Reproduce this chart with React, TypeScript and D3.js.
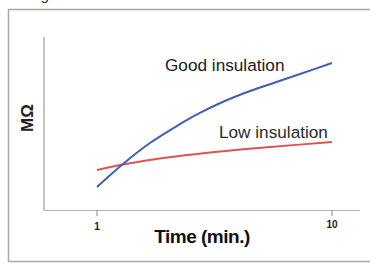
import React from "react";
import * as d3 from "d3";

const xTicks = [1, 10];
const xTickLabels = ["1", "10"];
const goodTimes = [1, 1.29, 1.68, 2.19, 2.74, 3.5, 4.48, 5.72, 7.31, 10];
const goodValues = [13.3, 26.6, 38.7, 48.6, 56.1, 63.0, 68.8, 73.7, 78.6, 85];
const lowTimes = [1, 1.29, 1.85, 3.34, 5.45, 10];
const lowValues = [23.1, 26.3, 29.8, 33.8, 36.4, 39.3];
const seriesLabels = ["Good insulation", "Low insulation"];
const xTitle = "Time (min.)";
const yTitle = "MΩ";

export default function App() {
  const W = 370, H = 267;
  const x = d3.scaleLog().domain([1, 10]).range([97, 332]);
  const y = d3.scaleLinear().domain([0, 100]).range([210, 37]);
  const line = d3
    .line<[number, number]>()
    .x((d) => x(d[0]))
    .y((d) => y(d[1]))
    .curve(d3.curveCatmullRom.alpha(0.5));
  const good = goodTimes.map((t, i) => [t, goodValues[i]] as [number, number]);
  const low = lowTimes.map((t, i) => [t, lowValues[i]] as [number, number]);
  const font = "'Liberation Sans', Arial, sans-serif";
  return (
    <svg
      width={W}
      height={H}
      style={{ position: "absolute", left: 0, top: 0, background: "#fff" }}
      fontFamily={font}
    >
      <rect x={0} y={0} width={W} height={H} fill="#fff" />
      <text x={28} y={-0.5} fontSize={15} fill="#222">Figure</text>
      {/* frame */}
      <path d={`M${W + 2},9.5 H8.5 V261.5 H${W + 2}`} fill="none" stroke="#a8a8a8" strokeWidth={1.5} />
      {/* axes */}
      <line x1={44} x2={44} y1={37} y2={210.5} stroke="#9a9a9a" strokeWidth={1.2} />
      <line x1={44} x2={360} y1={210.5} y2={210.5} stroke="#b0b0b0" strokeWidth={1.2} />
      {xTicks.map((t, i) => (
        <g key={t}>
          <line x1={x(t)} x2={x(t)} y1={210} y2={216} stroke="#888" strokeWidth={1} />
          <text x={x(t)} y={i === 0 ? 230 : 228} fontSize={10} fontWeight="bold" textAnchor="middle" fill="#222">
            {xTickLabels[i]}
          </text>
        </g>
      ))}
      <text x={202} y={243} fontSize={19} fontWeight="bold" textAnchor="middle" fill="#111" letterSpacing={-0.5}>
        {xTitle}
      </text>
      <text
        transform="translate(33,118) rotate(-90)"
        fontSize={17}
        fontWeight="bold"
        textAnchor="middle"
        fill="#222"
      >
        {yTitle}
      </text>
      <path d={line(low) || ""} fill="none" stroke="#e0524f" strokeWidth={2} />
      <path d={line(good) || ""} fill="none" stroke="#3f5fb3" strokeWidth={2} />
      <text x={165} y={71} fontSize={17.2} fill="#1a1a1a">{seriesLabels[0]}</text>
      <text x={219} y={138} fontSize={17.2} fill="#2a2a2a">{seriesLabels[1]}</text>
    </svg>
  );
}
